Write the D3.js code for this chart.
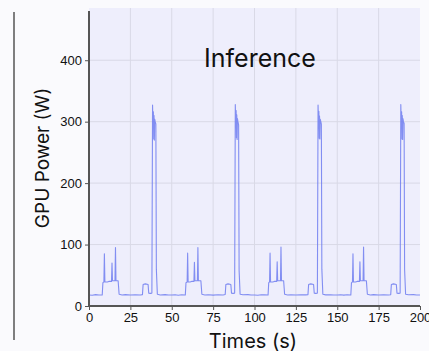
<!DOCTYPE html>
<html>
<head>
<meta charset="utf-8">
<script src="https://cdn.jsdelivr.net/npm/d3@7"></script>
<style>
  body { margin: 0; background: #fafafd; }
  svg { display: block; font-family: Inter, Roboto, sans-serif; }
  .tick text { font-size: 13px; fill: #111; }
</style>
</head>
<body>
<svg class="chart" width="429" height="351"></svg>
<script>
// GPU power trace, one row per 50 s run
var times = [
  0, 2, 4, 6, 8, 8.4, 9.0, 9.3, 9.6, 11, 12, 13.6, 13.9, 14.2, 15.7, 16.0, 16.3, 17.6, 18.2, 20, 22, 25, 28, 31, 32.3, 32.7, 34, 35.7, 36.1, 37, 38.0, 38.4, 38.7, 38.9, 39.1, 39.3, 39.5, 39.7, 40.0, 40.4, 40.7, 41.3, 43, 46, 48,
  50, 52, 54, 56, 58.2, 58.6, 59.3, 59.6, 59.9, 61, 62, 63.4, 63.7, 64.0, 65.5, 65.8, 66.1, 67.6, 68.2, 70, 72, 75, 78, 81, 82.3, 82.7, 84, 85.7, 86.1, 87, 88.0, 88.4, 88.7, 88.9, 89.1, 89.3, 89.5, 89.7, 90.0, 90.4, 90.7, 91.3, 93, 96, 98,
  100, 102, 104, 106, 108.2, 108.6, 109.1, 109.4, 109.7, 111, 112, 113.4, 113.7, 114.0, 115.7, 116.0, 116.3, 117.6, 118.2, 120, 122, 125, 128, 131, 132.3, 132.7, 134, 135.7, 136.1, 137, 138.0, 138.4, 138.7, 138.9, 139.1, 139.3, 139.5, 139.7, 140.0, 140.4, 140.7, 141.3, 143, 146, 148,
  150, 152, 154, 156, 158.2, 158.6, 159.2, 159.5, 159.8, 161, 162, 163.4, 163.7, 164.0, 165.6, 165.9, 166.2, 167.6, 168.2, 170, 172, 175, 178, 181, 182.3, 182.7, 184, 185.7, 186.1, 187, 188.0, 188.4, 188.7, 188.9, 189.1, 189.3, 189.5, 189.7, 190.0, 190.4, 190.7, 191.3, 193, 196, 198, 200
];
var power = [
  18, 17.5, 18.5, 18, 18, 38, 39, 85, 39, 39, 40, 40, 70, 41, 41, 95, 41, 41, 19, 18, 18.5, 17.8, 18.3, 18, 18.5, 35, 36, 35, 21, 20.5, 21, 327, 290, 316, 272, 310, 270, 304, 300, 296, 60, 19, 18, 18.5, 17.8,
  18, 18.4, 17.6, 18.2, 18, 38, 39, 86, 39, 39, 40, 40, 71, 41, 41, 95, 41, 41, 19, 18, 18.3, 17.7, 18.4, 18, 18.6, 35, 36, 35, 21, 20.5, 21, 328, 292, 318, 274, 311, 271, 305, 300, 295, 58, 19, 18.2, 18.5, 17.9,
  18, 17.6, 18.3, 18.1, 18, 38, 39, 86, 39, 39, 40, 40, 72, 41, 41, 96, 41, 41, 19, 18, 18.4, 17.8, 18.2, 18.1, 18.5, 35, 36, 35, 21, 20.5, 21, 327, 291, 317, 273, 309, 272, 304, 301, 296, 60, 19, 18.1, 18.4, 17.8,
  18, 18.3, 17.7, 18.2, 18, 38, 39, 85, 39, 39, 40, 40, 72, 41, 41, 96, 41, 41, 19, 18, 18.5, 17.8, 18.3, 18, 18.4, 35, 36, 35, 21, 20.5, 21, 328, 290, 316, 272, 310, 271, 305, 300, 297, 59, 19, 18.2, 18.5, 17.9, 18
];
var xTicks = [0, 25, 50, 75, 100, 125, 150, 175, 200];
var yTicks = [0, 100, 200, 300, 400];

var margin = { top: 8, right: 9, bottom: 45, left: 89 };
var width = 429 - margin.left - margin.right;
var height = 351 - margin.top - margin.bottom;

var root = d3.select(".chart");

// stray border line on the left of the figure
root.append("line")
  .attr("x1", 14).attr("x2", 14).attr("y1", 12).attr("y2", 340)
  .attr("stroke", "#555").attr("stroke-width", 1.5);

var svg = root.append("g")
  .attr("transform", "translate(" + margin.left + "," + margin.top + ")");

var x = d3.scaleLinear().domain([0, 200]).range([0, width]);
var y = d3.scaleLinear().domain([0, 485]).range([height, 0]);

svg.append("rect")
  .attr("width", width).attr("height", height)
  .attr("fill", "#eeeefc");

// grid
svg.append("g").selectAll("line").data(xTicks.slice(1, -1)).enter().append("line")
  .attr("x1", d => x(d)).attr("x2", d => x(d)).attr("y1", 0).attr("y2", height)
  .attr("stroke", "#d9d9e6").attr("stroke-width", 1);
svg.append("g").selectAll("line").data(yTicks.slice(1)).enter().append("line")
  .attr("x1", 0).attr("x2", width).attr("y1", d => y(d)).attr("y2", d => y(d))
  .attr("stroke", "#d9d9e6").attr("stroke-width", 1);

// title
svg.append("text")
  .attr("x", 171).attr("y", 59)
  .attr("text-anchor", "middle")
  .style("font-size", "25px").style("fill", "#111")
  .text("Inference");

// trace
var pts = times.map((t, i) => [t, power[i]]);
var line0 = d3.line().x(d => x(d[0])).y(d => y(d[1]));
svg.append("path")
  .datum(pts)
  .attr("d", line0)
  .attr("fill", "none")
  .attr("stroke", "#6e7cf0")
  .attr("stroke-opacity", 0.85)
  .attr("stroke-width", 1.1)
  .attr("stroke-linejoin", "round");

// axes
var xAxis = svg.append("g")
  .attr("transform", "translate(0," + height + ")")
  .call(d3.axisBottom(x).tickValues(xTicks).tickSize(4).tickPadding(3).tickSizeOuter(0));
var yAxis = svg.append("g")
  .call(d3.axisLeft(y).tickValues(yTicks).tickSize(4).tickPadding(3).tickSizeOuter(0));
yAxis.select(".domain").attr("d", "M0," + 3 + "V" + height);
xAxis.select(".domain").attr("d", "M0,0H" + width);
svg.selectAll(".domain").attr("stroke", "#555").attr("stroke-width", 2);
svg.selectAll(".tick line").attr("stroke", "#555");

// axis labels
svg.append("text")
  .attr("x", 164).attr("y", 340)
  .attr("text-anchor", "middle")
  .style("font-size", "20px").style("fill", "#111")
  .text("Times (s)");
svg.append("text")
  .attr("transform", "rotate(-90)")
  .attr("x", -150).attr("y", -40)
  .attr("text-anchor", "middle")
  .style("font-size", "19px").style("fill", "#111")
  .text("GPU Power (W)");
</script>
</body>
</html>
